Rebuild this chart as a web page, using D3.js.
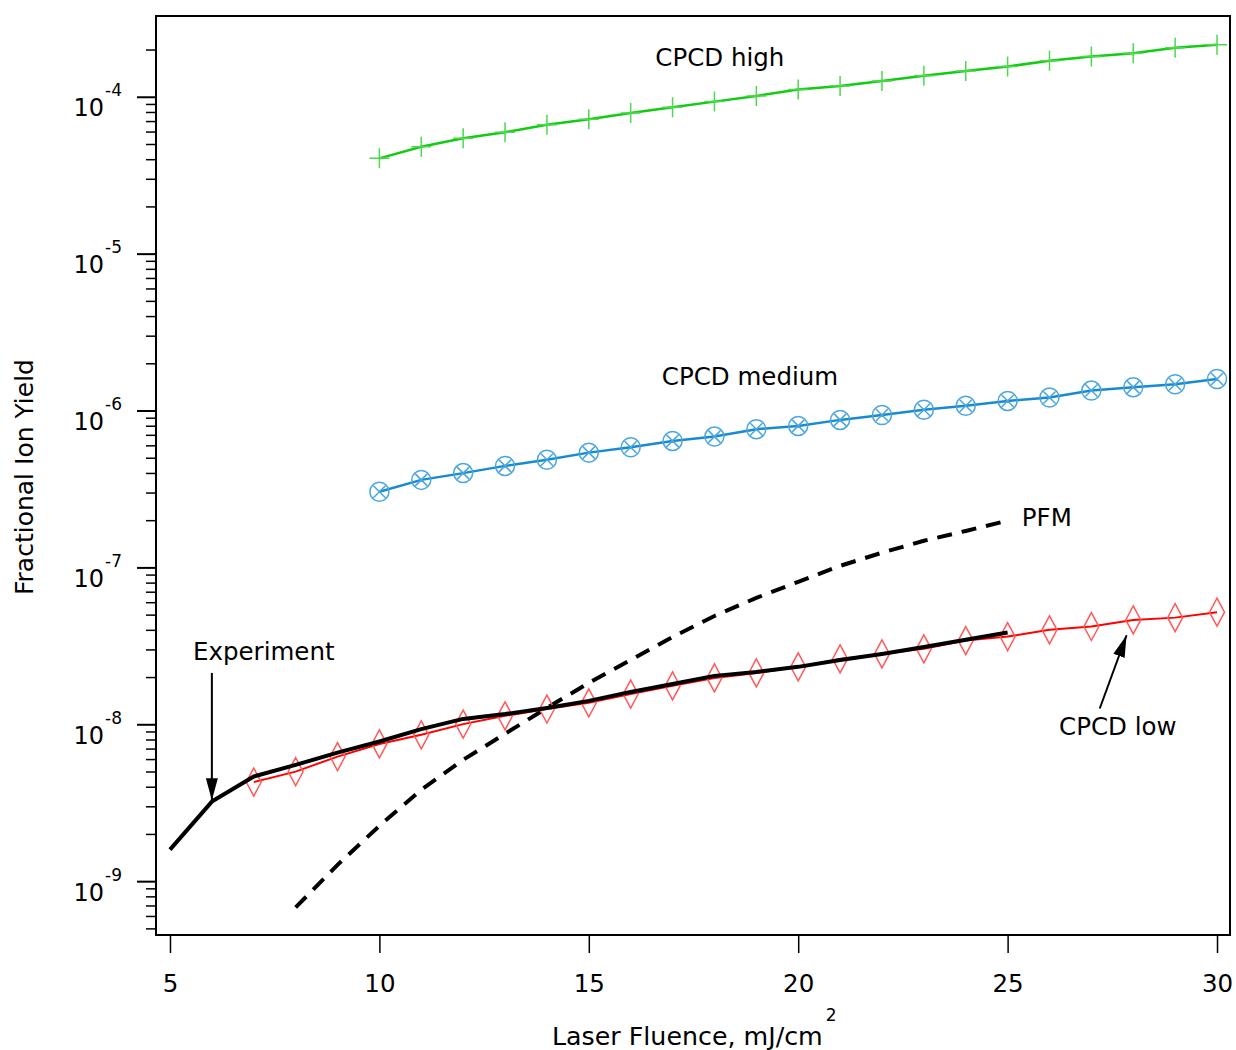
<!DOCTYPE html>
<html>
<head>
<meta charset="utf-8">
<script src="https://cdn.jsdelivr.net/npm/d3@7"></script>
<style>
  body {margin: 0; background: #fff;}
  text {font-family: "DejaVu Sans", Verdana, sans-serif; fill: #000;}
</style>
</head>
<body>
<div id="chart"></div>
<script>
//-- Data
var fluence_exp = [5, 6, 7, 8, 9, 10, 11, 12, 13, 14, 15, 16, 17, 18, 19, 20, 21, 22, 23, 24, 25];
var yield_exp = [1.60e-9, 3.24e-9, 4.68e-9, 5.55e-9, 6.65e-9, 7.82e-9, 9.38e-9, 1.09e-8, 1.17e-8, 1.28e-8,
  1.42e-8, 1.62e-8, 1.82e-8, 2.05e-8, 2.17e-8, 2.34e-8, 2.59e-8, 2.83e-8, 3.13e-8, 3.48e-8, 3.87e-8];

var fluence_pfm = [8, 9, 10, 11, 12, 13, 14, 15, 16, 17, 18, 19, 20, 21, 22, 23, 24, 25];
var yield_pfm = [6.85e-10, 1.28e-9, 2.27e-9, 3.85e-9, 5.98e-9, 8.76e-9, 1.28e-8, 1.85e-8, 2.59e-8,
  3.63e-8, 4.94e-8, 6.44e-8, 8.15e-8, 1.03e-7, 1.25e-7, 1.49e-7, 1.72e-7, 2.00e-7];

var fluence_low = [7, 8, 9, 10, 11, 12, 13, 14, 15, 16, 17, 18, 19, 20, 21, 22, 23, 24, 25, 26, 27, 28, 29, 30];
var yield_low = [4.31e-9, 5.03e-9, 6.27e-9, 7.55e-9, 8.63e-9, 1.01e-8, 1.14e-8, 1.26e-8, 1.38e-8, 1.57e-8,
  1.77e-8, 1.99e-8, 2.14e-8, 2.34e-8, 2.63e-8, 2.83e-8, 3.05e-8, 3.44e-8, 3.65e-8, 4.03e-8,
  4.23e-8, 4.66e-8, 4.82e-8, 5.22e-8];

var fluence_cpcd = [10, 11, 12, 13, 14, 15, 16, 17, 18, 19, 20, 21, 22, 23, 24, 25, 26, 27, 28, 29, 30];
var yield_medium = [3.06e-7, 3.64e-7, 4.02e-7, 4.47e-7, 4.89e-7, 5.43e-7, 5.88e-7, 6.45e-7, 6.87e-7, 7.66e-7,
  8.04e-7, 8.78e-7, 9.44e-7, 1.02e-6, 1.08e-6, 1.16e-6, 1.22e-6, 1.35e-6, 1.42e-6, 1.48e-6, 1.60e-6];
var yield_high = [4.08e-5, 4.84e-5, 5.48e-5, 5.98e-5, 6.69e-5, 7.24e-5, 7.94e-5, 8.63e-5, 9.38e-5, 1.02e-4,
  1.12e-4, 1.18e-4, 1.27e-4, 1.37e-4, 1.47e-4, 1.57e-4, 1.71e-4, 1.82e-4, 1.91e-4, 2.07e-4, 2.16e-4];

var x_ticks = [5, 10, 15, 20, 25, 30];
var y_decades = [-9, -8, -7, -6, -5, -4];

//-- Labels: [text, fluence, yield, anchor]
var labels = [
  ['CPCD high', 18.13, 1.58e-4, 'middle'],
  ['CPCD medium', 18.85, 1.47e-6, 'middle'],
  ['PFM', 25.34, 1.85e-7, 'start'],
  ['Experiment', 5.55, 2.6e-8, 'start'],
  ['CPCD low', 26.23, 8.6e-9, 'start']
];
//-- Arrows: [from fluence, from yield, to fluence, to yield]
var arrows = [
  [6, 2.14e-8, 6, 3.30e-9],
  [27.2, 1.27e-8, 27.84, 3.72e-8]
];

function Make_Canvas(wrap) {
  var tot_width = 1236;
  var tot_height = 1050;
  var margin = {left: 156, right: 6, top: 16, bottom: 115};
  var width = tot_width - margin.left - margin.right;
  var height = tot_height - margin.top - margin.bottom;

  var svg = d3.select(wrap.id)
    .append("svg")
      .attr("width", tot_width)
      .attr("height", tot_height)
    .append("g")
      .attr("transform", "translate(" + margin.left + "," + margin.top + ")");

  wrap.margin = margin;
  wrap.width = width;
  wrap.height = height;
  wrap.svg = svg;
}

function Draw(wrap) {
  var svg = wrap.svg;

  var x = d3.scaleLinear()
    .domain([4.666, 30.31])
    .range([0, wrap.width]);

  var y = d3.scaleLog()
    .domain([Math.pow(10, -9.34), Math.pow(10, -3.482)])
    .range([wrap.height, 0]);

  //-- X-axis
  var x_axis = d3.axisBottom(x)
    .tickValues(x_ticks)
    .tickSize(18)
    .tickPadding(22)
    .tickFormat(d3.format("d"));

  var gx = svg.append("g")
    .attr("transform", "translate(0," + wrap.height + ")")
    .call(x_axis);
  gx.select(".domain").remove();
  gx.selectAll(".tick line").attr("stroke", "#000").attr("stroke-width", 1.5);
  gx.selectAll(".tick text")
    .style("font-size", "24.5px")
    .style("font-family", '"DejaVu Sans", Verdana, sans-serif');

  //-- Y-axis, minor ticks (the one hugging the top frame is left out)
  var minor = [];
  var d, k, v;
  for (d=-10; d<=-3; d++) {
    for (k=1; k<=9; k++) {
      v = k * Math.pow(10, d);
      if (y(v) > 10 && y(v) <= wrap.height) minor.push([v, k == 1]);
    }
  }

  svg.selectAll(".ytick")
    .data(minor)
    .enter()
    .append("line")
      .attr("class", "ytick")
      .attr("x1", function (d) {return d[1] ? -19 : -10;})
      .attr("x2", 0)
      .attr("y1", function (d) {return y(d[0]);})
      .attr("y2", function (d) {return y(d[0]);})
      .attr("stroke", "#000")
      .attr("stroke-width", function (d) {return d[1] ? 2 : 1.5;});

  var ylab = svg.selectAll(".ylab")
    .data(y_decades)
    .enter()
    .append("text")
      .attr("class", "ylab")
      .attr("x", -34)
      .attr("y", function (d) {return y(Math.pow(10, d)) + 19;})
      .attr("text-anchor", "end")
      .style("font-size", "24px");
  ylab.append("tspan").text("10");
  ylab.append("tspan")
    .attr("dy", -20)
    .attr("dx", 1)
    .style("font-size", "17px")
    .text(function (d) {return d;});

  //-- Frame
  svg.append("rect")
    .attr("x", 0)
    .attr("y", 0)
    .attr("width", wrap.width)
    .attr("height", wrap.height)
    .attr("fill", "none")
    .attr("stroke", "#000")
    .attr("stroke-width", 2);

  var line = d3.line()
    .x(function (d) {return x(d[0]);})
    .y(function (d) {return y(d[1]);});

  function Pairs(xs, ys) {return xs.map(function (v, i) {return [v, ys[i]];});}

  //-- PFM
  svg.append("path")
    .attr("d", line(Pairs(fluence_pfm, yield_pfm)))
    .attr("fill", "none")
    .attr("stroke", "#000")
    .attr("stroke-width", 4)
    .attr("stroke-dasharray", "15,10");

  //-- CPCD high
  var high = Pairs(fluence_cpcd, yield_high);
  svg.append("path")
    .attr("d", line(high))
    .attr("fill", "none")
    .attr("stroke", "#12cc12")
    .attr("stroke-width", 2.5);
  svg.selectAll(".mk_high")
    .data(high)
    .enter()
    .append("path")
      .attr("class", "mk_high")
      .attr("transform", function (d) {return "translate(" + x(d[0]) + "," + y(d[1]) + ")";})
      .attr("d", "M-10,0H10M0,-10V10")
      .attr("stroke", "#4fd84f")
      .attr("stroke-width", 1.5);

  //-- CPCD medium
  var medium = Pairs(fluence_cpcd, yield_medium);
  svg.append("path")
    .attr("d", line(medium))
    .attr("fill", "none")
    .attr("stroke", "#168bd2")
    .attr("stroke-width", 2.5);
  svg.selectAll(".mk_med")
    .data(medium)
    .enter()
    .append("path")
      .attr("class", "mk_med")
      .attr("transform", function (d) {return "translate(" + x(d[0]) + "," + y(d[1]) + ")";})
      .attr("d", "M-9.5,0A9.5,9.5 0 1,0 9.5,0A9.5,9.5 0 1,0 -9.5,0M-6,-6L6,6M-6,6L6,-6")
      .attr("fill", "none")
      .attr("stroke", "#4aa6de")
      .attr("stroke-width", 1.5);

  //-- CPCD low
  var low = Pairs(fluence_low, yield_low);
  svg.append("path")
    .attr("d", line(low))
    .attr("fill", "none")
    .attr("stroke", "#ff0000")
    .attr("stroke-width", 2);
  svg.selectAll(".mk_low")
    .data(low)
    .enter()
    .append("path")
      .attr("class", "mk_low")
      .attr("transform", function (d) {return "translate(" + x(d[0]) + "," + y(d[1]) + ")";})
      .attr("d", "M0,-14L7.5,0L0,14L-7.5,0Z")
      .attr("fill", "none")
      .attr("stroke", "#ff5a5a")
      .attr("stroke-width", 1.5);

  //-- Experiment
  svg.append("path")
    .attr("d", line(Pairs(fluence_exp, yield_exp)))
    .attr("fill", "none")
    .attr("stroke", "#000")
    .attr("stroke-width", 4)
    .attr("stroke-linejoin", "round");

  //-- Arrows
  svg.append("defs")
    .append("marker")
      .attr("id", "head")
      .attr("viewBox", "0 0 22 12")
      .attr("refX", 22)
      .attr("refY", 6)
      .attr("markerWidth", 22)
      .attr("markerHeight", 12)
      .attr("markerUnits", "userSpaceOnUse")
      .attr("orient", "auto")
    .append("path")
      .attr("d", "M0,0L22,6L0,12Z")
      .attr("fill", "#000");

  svg.selectAll(".arrow")
    .data(arrows)
    .enter()
    .append("line")
      .attr("class", "arrow")
      .attr("x1", function (d) {return x(d[0]);})
      .attr("y1", function (d) {return y(d[1]);})
      .attr("x2", function (d) {return x(d[2]);})
      .attr("y2", function (d) {return y(d[3]);})
      .attr("stroke", "#000")
      .attr("stroke-width", 2)
      .attr("marker-end", "url(#head)");

  //-- Labels
  svg.selectAll(".label")
    .data(labels)
    .enter()
    .append("text")
      .attr("class", "label")
      .attr("x", function (d) {return x(d[1]);})
      .attr("y", function (d) {return y(d[2]);})
      .attr("text-anchor", function (d) {return d[3];})
      .style("font-size", "24.5px")
      .text(function (d) {return d[0];});

  //-- Axis titles
  var xt = svg.append("text")
    .attr("x", (552 - wrap.margin.left))
    .attr("y", wrap.height + 110)
    .style("font-size", "25.3px");
  xt.append("tspan").text("Laser Fluence, mJ/cm");
  xt.append("tspan")
    .attr("dy", -24)
    .attr("dx", 3)
    .style("font-size", "17px")
    .text("2");

  svg.append("text")
    .attr("transform", "translate(" + (33 - wrap.margin.left) + "," + (wrap.height / 2 + 1.5) + ") rotate(-90)")
    .attr("text-anchor", "middle")
    .style("font-size", "25px")
    .text("Fractional Ion Yield");
}

var wrap = {id: "#chart"};
Make_Canvas(wrap);
Draw(wrap);
</script>
</body>
</html>
